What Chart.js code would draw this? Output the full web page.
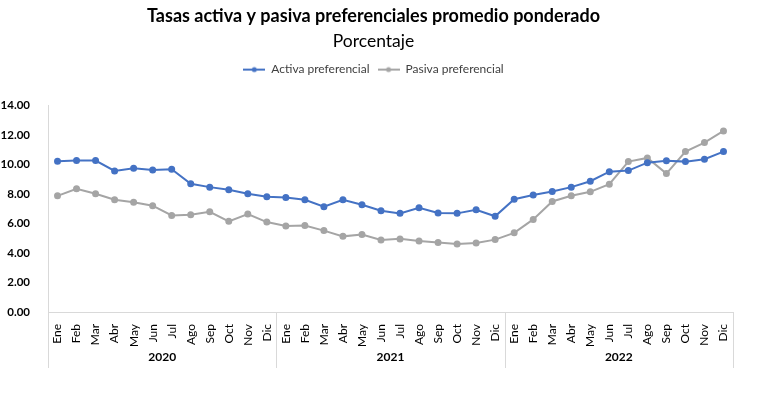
<!DOCTYPE html>
<html>
<head>
<meta charset="utf-8">
<script src="https://cdn.jsdelivr.net/npm/chart.js@4/dist/chart.umd.min.js"></script>
<style>
  html, body { margin: 0; padding: 0; background: #fff; }
  #wrap { width: 783px; height: 397px; }
</style>
</head>
<body>
<div id="wrap"><canvas id="myChart" width="783" height="397"></canvas></div>
<script>
var meses = ['Ene','Feb','Mar','Abr','May','Jun','Jul','Ago','Sep','Oct','Nov','Dic']
var years = ['2020','2021','2022']
var labels = meses.concat(meses, meses)

var activa = [10.22,10.27,10.27,9.57,9.75,9.64,9.68,8.70,8.47,8.29,8.02,7.82,
              7.77,7.61,7.14,7.61,7.27,6.87,6.69,7.07,6.71,6.69,6.94,6.49,
              7.65,7.94,8.17,8.47,8.87,9.52,9.59,10.13,10.26,10.20,10.36,10.88]
var pasiva = [7.88,8.36,8.02,7.61,7.45,7.21,6.55,6.60,6.80,6.15,6.64,6.10,
              5.84,5.86,5.52,5.13,5.25,4.89,4.96,4.82,4.71,4.61,4.68,4.91,
              5.37,6.28,7.50,7.88,8.15,8.67,10.20,10.45,9.39,10.88,11.49,12.28]

var FONT = "Lato, 'Liberation Sans', sans-serif"

// little line+dot marker for the legend
function legendMark(color) {
    var c = document.createElement('canvas')
    c.width = 22
    c.height = 8
    var g = c.getContext('2d')
    g.strokeStyle = color
    g.lineWidth = 2
    g.beginPath()
    g.moveTo(0, 4)
    g.lineTo(22, 4)
    g.stroke()
    g.fillStyle = color
    g.beginPath()
    g.arc(11, 4, 2.5, 0, Math.PI * 2)
    g.fill()
    return c
}

var yearPlugin = {
    id: 'years',
    beforeInit: function(chart) {
        var fit = chart.legend.fit
        chart.legend.fit = function() {
            fit.bind(chart.legend)()
            this.height += 20
        }
    },
    afterLayout: function(chart) {
        // title, subtitle and legend sit a bit right of the canvas middle
        chart.boxes.forEach(function(b) {
            if (b.position == 'top') {
                b.left += 7
                b.right += 7
            }
        })
    },
    afterDraw: function(chart) {
        var x = chart.scales.x
        var ctx = chart.ctx
        var bottom = chart.chartArea.bottom
        var half = (x.getPixelForValue(1) - x.getPixelForValue(0)) / 2
        ctx.save()
        ctx.strokeStyle = '#d9d9d9'
        ctx.lineWidth = 1
        for (var i = 0; i <= years.length; i++) {
            var px = Math.round(x.getPixelForValue(i * 12) - half) + 0.5
            if (i == years.length) px = Math.round(x.getPixelForValue(i * 12 - 1) + half) + 0.5
            ctx.beginPath()
            ctx.moveTo(px, bottom)
            ctx.lineTo(px, bottom + 56)
            ctx.stroke()
        }
        ctx.fillStyle = '#000'
        ctx.font = 'bold 12px ' + FONT
        ctx.textAlign = 'center'
        ctx.textBaseline = 'middle'
        years.forEach(function(y, i) {
            var a = x.getPixelForValue(i * 12) - half
            var b = x.getPixelForValue(i * 12 + 11) + half
            ctx.fillText(y, (a + b) / 2, bottom + 45)
        })
        ctx.restore()
    }
}

var chart = new Chart(document.getElementById('myChart').getContext('2d'), {
    type: 'line',
    data: {
        labels: labels,
        datasets: [
            {
                label: 'Activa preferencial',
                data: activa,
                borderColor: '#4472C4',
                backgroundColor: '#4472C4',
                borderWidth: 2,
                pointRadius: 2.5,
                tension: 0
            },
            {
                label: 'Pasiva preferencial',
                data: pasiva,
                borderColor: '#A5A5A5',
                backgroundColor: '#A5A5A5',
                borderWidth: 2,
                pointRadius: 2.5,
                tension: 0
            }
        ]
    },
    options: {
        responsive: false,
        animation: false,
        layout: { padding: { left: 0, right: 50, top: 0, bottom: 29 } },
        plugins: {
            title: {
                display: true,
                text: 'Tasas activa y pasiva preferenciales promedio ponderado',
                color: '#000',
                font: { family: FONT, size: 18, weight: 'bold' },
                padding: { top: 5, bottom: 2 }
            },
            subtitle: {
                display: true,
                text: 'Porcentaje',
                color: '#000',
                font: { family: FONT, size: 17.5, weight: 'normal' },
                padding: { top: 2, bottom: 4 }
            },
            legend: {
                labels: {
                    color: '#404040',
                    font: { family: FONT, size: 12 },
                    usePointStyle: true,
                    pointStyleWidth: 22,
                    padding: 8,
                    generateLabels: function(chart) {
                        var items = Chart.defaults.plugins.legend.labels.generateLabels(chart)
                        items.forEach(function(it, i) {
                            it.pointStyle = legendMark(chart.data.datasets[i].borderColor)
                        })
                        return items
                    }
                }
            },
            tooltip: { enabled: false }
        },
        scales: {
            x: {
                offset: true,
                grid: { display: false },
                border: { color: '#d9d9d9' },
                ticks: {
                    color: '#000',
                    font: { family: FONT, size: 12 },
                    maxRotation: 90,
                    minRotation: 90,
                    autoSkip: false,
                    padding: 4
                },
                afterFit: function(s) { s.height = 56 }
            },
            y: {
                min: 0,
                max: 14,
                grid: { display: false },
                border: { color: '#d9d9d9' },
                ticks: {
                    stepSize: 2,
                    color: '#000',
                    padding: 10,
                    font: { family: FONT, size: 11.5, weight: 'bold' },
                    callback: function(v) { return v.toFixed(2) }
                },
                afterFit: function(s) { s.width = 48 }
            }
        }
    },
    plugins: [yearPlugin]
})
</script>
</body>
</html>
